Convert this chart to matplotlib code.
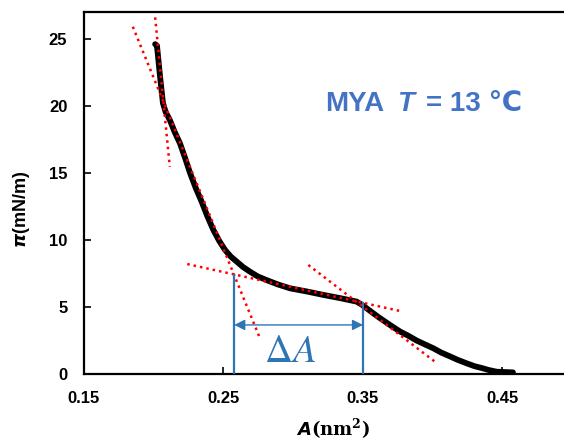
#!/usr/bin/env python3
import numpy as np
import matplotlib
matplotlib.use("Agg")
import matplotlib.pyplot as plt
from matplotlib.offsetbox import TextArea, HPacker, AnnotationBbox

# isotherm
area = [0.2010, 0.2023, 0.2045, 0.2066, 0.2085, 0.2115, 0.2150, 0.2188, 0.2225,
        0.2260, 0.2300, 0.2343, 0.2385, 0.2427, 0.2468, 0.2511, 0.2553, 0.2595,
        0.2640, 0.2690, 0.2745, 0.2810, 0.2890, 0.2977, 0.3100, 0.3215, 0.3340,
        0.3454, 0.3490, 0.3526, 0.3610, 0.3693, 0.3767, 0.3825, 0.3884, 0.3945,
        0.4004, 0.4060, 0.4120, 0.4180, 0.4242, 0.4300, 0.4350, 0.4400, 0.4458,
        0.4575]
pressure = [24.6, 24.5, 22.2, 20.2, 19.55, 18.95, 18.05, 17.2, 16.1,
            15.0, 13.9, 12.86, 11.75, 10.75, 9.95, 9.25, 8.75, 8.38,
            7.98, 7.63, 7.28, 7.0, 6.68, 6.39, 6.15, 5.9, 5.65,
            5.40, 5.18, 4.9, 4.25, 3.66, 3.16, 2.85, 2.5, 2.2,
            1.92, 1.6, 1.33, 1.05, 0.80, 0.58, 0.45, 0.3, 0.17,
            0.12]

# tangent lines (end points)
tangents = [
    ([0.201, 0.2115], [26.6, 15.45]),
    ([0.185, 0.276], [25.9, 2.7]),
    ([0.224, 0.3787], [8.2, 4.65]),
    ([0.3108, 0.403], [8.13, 0.8]),
]

# delta A markers
marker_x = [0.2577, 0.35]
marker_top = [7.39, 5.3]
arrow_y = 3.66

xticks = [0.15, 0.25, 0.35, 0.45]
yticks = [0, 5, 10, 15, 20, 25]

plt.rcParams['font.family'] = ['Liberation Sans', 'DejaVu Sans']
plt.rcParams['mathtext.fontset'] = 'custom'
plt.rcParams['mathtext.it'] = 'DejaVu Sans:italic:bold'
plt.rcParams['mathtext.rm'] = 'DejaVu Serif:bold'
plt.rcParams['mathtext.bf'] = 'DejaVu Serif:bold'

blue = '#2E75B6'
text_blue = '#4472C4'

fig = plt.figure(figsize=(5.64, 4.43), dpi=100)
ax = fig.add_axes([84/564, 69/443, 1 - 84/564, (374 - 12)/443])

ax.plot(area, pressure, color='black', lw=4.2, solid_capstyle='round',
        solid_joinstyle='round', zorder=3)

for tx, ty in tangents:
    ax.plot(tx, ty, color='#FF0000', lw=1.8, linestyle=(0, (1, 1.6)), zorder=4)

for mx, mt in zip(marker_x, marker_top):
    ax.plot([mx, mx], [0, mt], color=blue, lw=1.6, zorder=5)

ax.annotate('', xy=(marker_x[0], arrow_y), xytext=(marker_x[1], arrow_y),
            arrowprops=dict(arrowstyle='<|-|>', color=blue, lw=1.0,
                            mutation_scale=16, shrinkA=0, shrinkB=0), zorder=5)
ax.text(0.2977, 1.64, r'$\Delta A$', color=blue, fontsize=28,
        ha='center', va='center', math_fontfamily='stix')

# label inside the plot
tp = dict(color=text_blue, fontsize=20, fontweight='bold')
parts = [TextArea('MYA', textprops=tp),
         TextArea('T', textprops=dict(tp, fontstyle='italic')),
         TextArea('= 13 ℃', textprops=tp)]
box = HPacker(children=parts, align='baseline', pad=0, sep=9)
ax.add_artist(AnnotationBbox(box, (0.3937, 20.15), frameon=False,
                             box_alignment=(0.5, 0.5)))

ax.set_xlim(0.15, 0.15 + 480/1395)
ax.set_ylim(0, 27.0)
ax.set_xticks(xticks)
ax.set_xticklabels([f"{v:.2f}" for v in xticks])
ax.set_yticks(yticks)
ax.tick_params(direction='in', length=5, width=1.2, labelsize=12, pad=12,
               top=False, right=False)
for lab in ax.get_xticklabels() + ax.get_yticklabels():
    lab.set_fontweight('bold')
for s in ['left', 'bottom', 'top']:
    ax.spines[s].set_linewidth(1.6)
ax.spines['right'].set_visible(False)

fig.text(22/564, 1 - 209/443, r'$\pi$(mN/m)', rotation=90, fontsize=13,
         fontweight='bold', ha='center', va='center')
fig.text(333/564, 1 - 429/443, r'$A$(nm$^\mathbf{2}$)', fontsize=13,
         ha='center', va='center', fontfamily='DejaVu Serif', fontweight='bold')

fig.savefig('out.png', dpi=100)
